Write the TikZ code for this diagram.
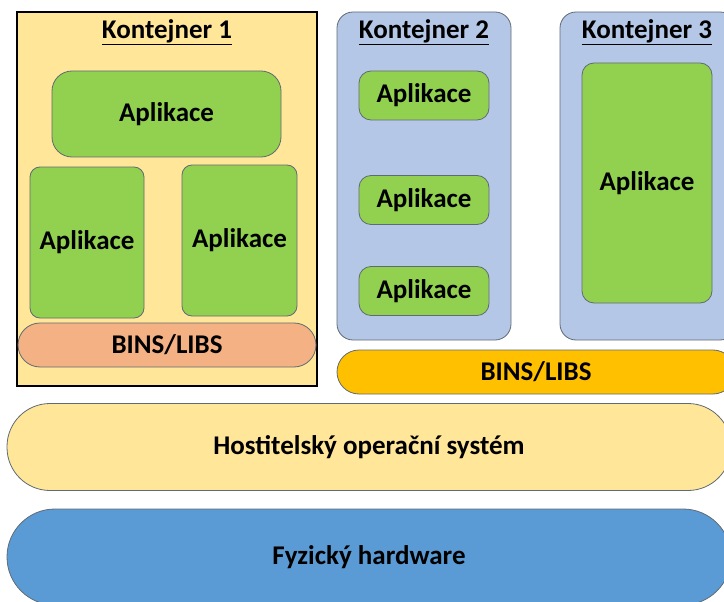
\documentclass[tikz,border=0pt]{standalone}
\usepackage{fontspec}
\setmainfont{Carlito}
\definecolor{paleyellow}{HTML}{FFE699}
\definecolor{appgreen}{HTML}{92D050}
\definecolor{paleblue}{HTML}{B4C7E7}
\definecolor{salmon}{HTML}{F4B183}
\definecolor{amber}{HTML}{FFC000}
\definecolor{steelblue}{HTML}{5B9BD5}
\definecolor{edgegray}{HTML}{5F6B73}
\begin{document}
\begin{tikzpicture}[x=1pt,y=-1pt,
  lbl/.style={font=\fontsize{27}{32}\selectfont\bfseries, text=black},
  box/.style={lbl, draw=edgegray, line width=0.8pt, inner sep=0pt, anchor=center},
  app/.style={box, fill=appgreen, rounded corners=12pt},
  pod/.style={box, fill=paleblue, rounded corners=16pt},
  layer/.style={box, rounded corners=#1},
  title/.style={lbl}]
  \useasboundingbox (0,0) rectangle (724,602);
  \clip (0,0) rectangle (724,602);

  % Container 1 with its own libraries
  \node[box, draw=black, line width=2pt, fill=paleyellow, minimum width=300pt, minimum height=374pt] (c1) at (167,199) {};
  \node[title] (t1) at (167,32) {\underline{Kontejner 1}};
  \node[app, rounded corners=20pt, minimum width=229pt, minimum height=86pt] (a1) at (166.5,114) {Aplikace};
  \node[app, rounded corners=10pt, minimum width=114pt, minimum height=151pt] (a2) at (87,242.5) {Aplikace};
  \node[app, rounded corners=10pt, minimum width=115pt, minimum height=151pt] (a3) at (239.5,240.5) {Aplikace};
  \node[layer=22pt, fill=salmon, minimum width=298pt, minimum height=44pt] (b1) at (167,345) {BINS/LIBS};

  % Container 2
  \node[pod, minimum width=174pt, minimum height=328pt] (c2) at (424,176) {};
  \node[title] (t2) at (424,32) {\underline{Kontejner 2}};
  \node[app, minimum width=130pt, minimum height=49pt] (a4) at (424,95.5) {Aplikace};
  \node[app, minimum width=130pt, minimum height=49pt] (a5) at (424,200) {Aplikace};
  \node[app, minimum width=130pt, minimum height=49pt] (a6) at (424,291) {Aplikace};

  % Container 3
  \node[pod, minimum width=176pt, minimum height=328pt] (c3) at (648,176) {};
  \node[title] (t3) at (647,32) {\underline{Kontejner 3}};
  \node[app, minimum width=130pt, minimum height=240pt] (a7) at (647,183) {Aplikace};

  % Shared libraries, host OS and hardware
  \node[layer=22pt, fill=amber, minimum width=398pt, minimum height=44pt] (b2) at (536,372) {BINS/LIBS};
  \node[layer=43pt, fill=paleyellow, minimum width=724pt, minimum height=87pt] (os) at (369,447) {Hostitelský operační systém};
  \node[layer=48pt, fill=steelblue, minimum width=724pt, minimum height=96pt] (hw) at (369,557) {Fyzický hardware};
\end{tikzpicture}
\end{document}
